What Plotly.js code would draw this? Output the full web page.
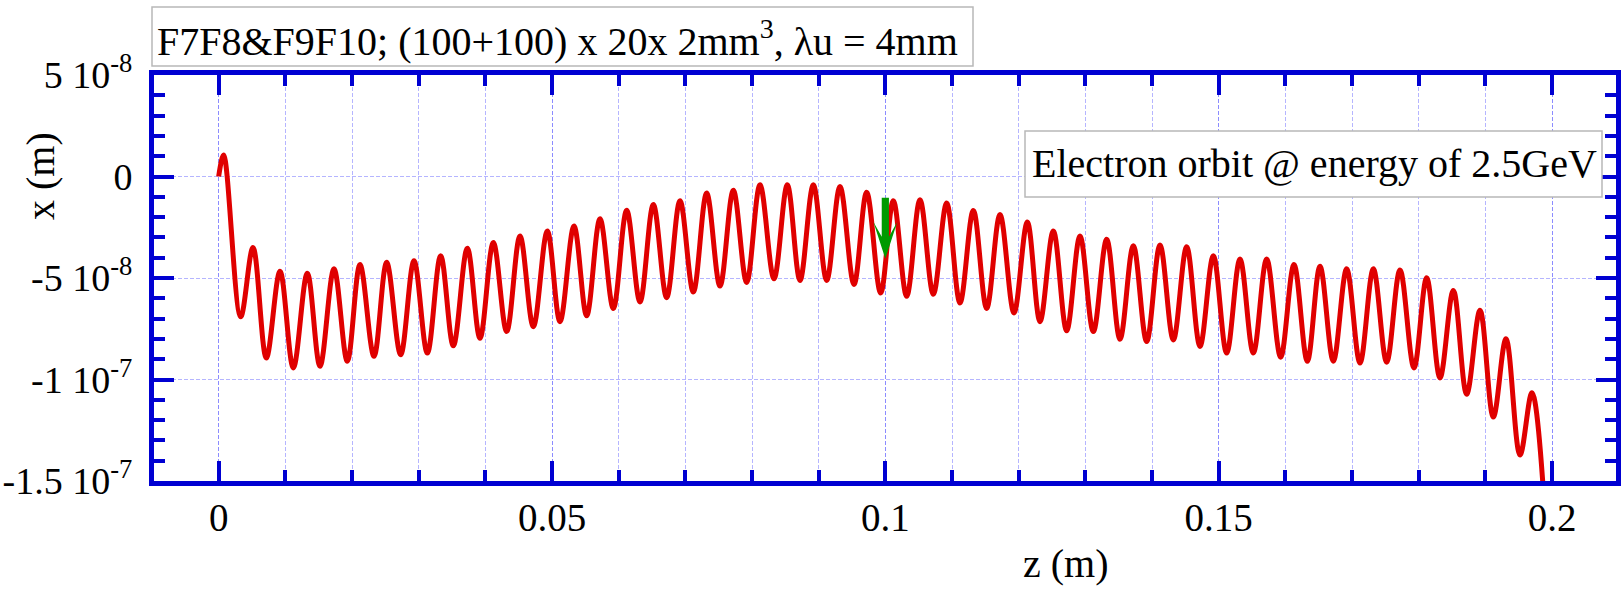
<!DOCTYPE html>
<html>
<head>
<meta charset="utf-8">
<script src="https://cdn.plot.ly/plotly-3.0.1.min.js"></script>
<style>html,body{margin:0;padding:0;background:#fff;}#chart{width:1623px;height:590px;}</style>
</head>
<body>
<div id="chart"></div>
<script>
// Extrema of the electron orbit (z in m, x in m)
const zPoints = [0, 0.00075, 0.0033, 0.00515, 0.00715, 0.0092, 0.0112, 0.0133, 0.0152, 0.0173,
  0.0193, 0.0212, 0.0233, 0.0252, 0.0273, 0.0293, 0.0313, 0.0333, 0.0352, 0.0373,
  0.0392, 0.0412, 0.0432, 0.0452, 0.0472, 0.0493, 0.0512, 0.0533, 0.0552, 0.0572,
  0.0592, 0.0612, 0.0632, 0.0652, 0.0672, 0.0692, 0.0712, 0.0732, 0.0752, 0.0772,
  0.0792, 0.0812, 0.0833, 0.0853, 0.0872, 0.0892, 0.0912, 0.0932, 0.0953, 0.0972,
  0.0993, 0.1012, 0.1032, 0.1052, 0.1072, 0.1092, 0.1112, 0.1132, 0.1152, 0.1172,
  0.1193, 0.1213, 0.1232, 0.1252, 0.1272, 0.1292, 0.1312, 0.1332, 0.1352, 0.1372,
  0.1392, 0.1412, 0.1432, 0.1452, 0.1472, 0.1492, 0.1512, 0.1532, 0.1552, 0.1572,
  0.1593, 0.1613, 0.1633, 0.1652, 0.1672, 0.1692, 0.1712, 0.1732, 0.1752, 0.1772,
  0.1793, 0.1812, 0.1832, 0.1852, 0.1872, 0.1892, 0.1912, 0.1931, 0.1952, 0.1970,
  0.1992];
const xOrbit = [0, 1.06e-8, -6.91e-8, -3.50e-8, -8.94e-8, -4.67e-8, -9.43e-8, -4.76e-8, -9.35e-8, -4.55e-8,
  -9.10e-8, -4.34e-8, -8.86e-8, -4.23e-8, -8.78e-8, -4.15e-8, -8.70e-8, -3.90e-8, -8.34e-8, -3.53e-8,
  -7.97e-8, -3.25e-8, -7.64e-8, -2.93e-8, -7.40e-8, -2.68e-8, -7.15e-8, -2.44e-8, -6.86e-8, -2.08e-8,
  -6.50e-8, -1.66e-8, -6.18e-8, -1.38e-8, -5.97e-8, -1.19e-8, -5.69e-8, -0.81e-8, -5.40e-8, -0.68e-8,
  -5.22e-8, -0.41e-8, -5.04e-8, -0.41e-8, -5.12e-8, -0.41e-8, -5.12e-8, -0.49e-8, -5.32e-8, -0.77e-8,
  -5.74e-8, -1.19e-8, -5.90e-8, -1.14e-8, -5.80e-8, -1.30e-8, -6.23e-8, -1.67e-8, -6.50e-8, -1.87e-8,
  -6.72e-8, -2.24e-8, -7.15e-8, -2.68e-8, -7.60e-8, -2.93e-8, -7.64e-8, -3.09e-8, -8.02e-8, -3.41e-8,
  -8.13e-8, -3.37e-8, -8.05e-8, -3.46e-8, -8.37e-8, -3.90e-8, -8.70e-8, -4.06e-8, -8.70e-8, -4.06e-8,
  -8.90e-8, -4.34e-8, -9.10e-8, -4.42e-8, -9.10e-8, -4.55e-8, -9.19e-8, -4.55e-8, -9.15e-8, -4.60e-8,
  -9.43e-8, -4.99e-8, -9.92e-8, -5.61e-8, -10.73e-8, -6.59e-8, -11.85e-8, -7.99e-8, -13.72e-8, -10.65e-8,
  -18.0e-8];

const xTickVals = [0, 0.05, 0.1, 0.15, 0.2];
const xTickText = ['0', '0.05', '0.1', '0.15', '0.2'];
const yTickVals = [-1.5e-7, -1e-7, -5e-8, 0, 5e-8];
const yTickText = ['-1.5 10<sup>-7</sup>', '-1 10<sup>-7</sup>', '-5 10<sup>-8</sup>', '0', '5 10<sup>-8</sup>'];

const titleText = 'F7F8&amp;F9F10; (100+100) x 20x 2mm<sup>3</sup>, λu = 4mm';
const legendText = 'Electron orbit @ energy of 2.5GeV';
const xTitle = 'z (m)';
const yTitle = 'x (m)';
const arrowZ = 0.1;
const arrowTipX = -4.05e-8;

// layout geometry (pixels)
const W = 1623, H = 590;
const M = {l: 154, r: 7, t: 75, b: 109};
const PW = W - M.l - M.r, PH = H - M.t - M.b;
const px = v => (v - M.l) / PW;
const py = v => (H - M.b - v) / PH;

const BLUE = '#0000d2';
const GRID = 'rgba(90,90,255,0.45)';
const FONT = '"Liberation Serif", "Times New Roman", Times, serif';

const trace = {
  x: zPoints, y: xOrbit, type: 'scatter', mode: 'lines',
  line: {color: '#e00000', width: 5, shape: 'spline', smoothing: 1},
  hoverinfo: 'skip', showlegend: false
};

const axisCommon = {
  showline: true, linecolor: BLUE, linewidth: 5, mirror: 'ticks',
  ticks: 'inside', ticklen: 20, tickwidth: 4, tickcolor: BLUE,
  showgrid: true, gridcolor: GRID, gridwidth: 1, griddash: '4px,2px',
  zeroline: false, tickmode: 'array'
};

const layout = {
  width: W, height: H,
  margin: {l: M.l, r: M.r, t: M.t, b: M.b, pad: 0},
  paper_bgcolor: '#fff', plot_bgcolor: '#fff',
  font: {family: FONT, color: '#000'},
  showlegend: false,
  xaxis: Object.assign({}, axisCommon, {
    range: [-0.0097, 0.2096], tickvals: xTickVals, ticktext: xTickText,
    tickfont: {family: FONT, size: 39, color: '#000'},
    ticklabelstandoff: -2,
    minor: {dtick: 0.01, tick0: 0, ticks: 'inside', ticklen: 11, tickwidth: 4, tickcolor: BLUE,
            showgrid: true, gridcolor: GRID, gridwidth: 1, griddash: '4px,2px'}
  }),
  yaxis: Object.assign({}, axisCommon, {
    range: [-1.5e-7, 5e-8], tickvals: yTickVals, ticktext: yTickText,
    tickfont: {family: FONT, size: 38, color: '#000'},
    ticklabelstandoff: 9,
    minor: {dtick: 1e-8, tick0: 0, ticks: 'inside', ticklen: 11, tickwidth: 4, tickcolor: BLUE, showgrid: false}
  }),
  shapes: [
    {type: 'rect', xref: 'paper', yref: 'paper', x0: px(152), x1: px(973), y0: py(66), y1: py(7),
     fillcolor: '#fff', line: {color: '#b8b8b8', width: 1.5}, layer: 'above'},
    {type: 'rect', xref: 'paper', yref: 'paper', x0: px(1025), x1: px(1602), y0: py(197), y1: py(131),
     fillcolor: '#fff', line: {color: '#b8b8b8', width: 1.5}, layer: 'above'},
    {type: 'path', xref: 'x', yref: 'y', xsizemode: 'pixel', ysizemode: 'pixel',
     xanchor: arrowZ, yanchor: arrowTipX,
     path: 'M0,0 L12,37 L3.6,22 L3.6,61 L-3.6,61 L-3.6,22 L-12,37 Z',
     fillcolor: '#009a00', line: {width: 0}, layer: 'above'}
  ],
  annotations: [
    {text: titleText, xref: 'paper', yref: 'paper', x: px(155), y: py(38), xanchor: 'left', yanchor: 'middle',
     showarrow: false, font: {family: FONT, size: 40, color: '#000'}},
    {text: legendText, xref: 'paper', yref: 'paper', x: px(1030), y: py(163), xanchor: 'left', yanchor: 'middle',
     showarrow: false, font: {family: FONT, size: 40, color: '#000'}},
    {text: xTitle, xref: 'paper', yref: 'paper', x: px(1066), y: py(563), xanchor: 'center', yanchor: 'middle',
     showarrow: false, font: {family: FONT, size: 40, color: '#000'}},
    {text: yTitle, xref: 'paper', yref: 'paper', x: px(40), y: py(176), xanchor: 'center', yanchor: 'middle',
     textangle: -90, showarrow: false, font: {family: FONT, size: 40, color: '#000'}}
  ]
};

Plotly.newPlot('chart', [trace], layout, {staticPlot: true, displayModeBar: false});
</script>
</body>
</html>
